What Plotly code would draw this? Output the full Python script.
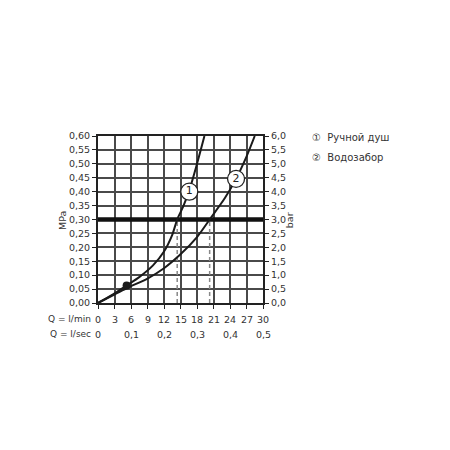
import plotly.graph_objects as go

# Data
q1 = [0, 2.5, 5.2, 7.5, 10, 12, 13.5, 14.4, 15.5, 16.6, 18.0, 19.35]
p1 = [0, 0.028, 0.063, 0.093, 0.135, 0.185, 0.245, 0.30, 0.347, 0.405, 0.50, 0.60]
q2 = [0, 5.2, 9, 12, 15, 18, 20.3, 23.1, 25.1, 27.0, 28.5]
p2 = [0, 0.053, 0.088, 0.125, 0.175, 0.237, 0.30, 0.378, 0.446, 0.526, 0.60]
dot_q, dot_p = [5.2], [0.063]
label_pts = {"1": (16.6, 0.40), "2": (25.1, 0.446)}
ref_p = 0.30
cross_q = [14.4, 20.3]
lmin_ticks = [0, 3, 6, 9, 12, 15, 18, 21, 24, 27, 30]
lsec_vals = [0, 6, 12, 18, 24, 30]
lsec_text = ["0", "0,1", "0,2", "0,3", "0,4", "0,5"]
mpa_ticks = [i * 0.05 for i in range(13)]
bar_ticks = [i * 0.5 for i in range(13)]
legend_items = ["\u2460  Ручной душ", "\u2461  Водозабор"]

FONT = "DejaVu Sans"
TXT = "#333333"
GRID = "#4a4a4a"

L, R, T, B = 97.5, 187, 135.7, 147.3
pw, ph = 450 - L - R, 450 - T - B


def py(pix):
    return 1 - (pix - T) / ph


def px(pix):
    return (pix - L) / pw


fig = go.Figure()

# dashed verticals
for q in cross_q:
    fig.add_trace(go.Scatter(x=[q, q], y=[0, ref_p], mode="lines",
                             line=dict(color="#888888", width=1.5, dash="4px,3px"),
                             hoverinfo="skip", showlegend=False))
# thick reference line
fig.add_trace(go.Scatter(x=[0, 30], y=[ref_p, ref_p], mode="lines",
                         line=dict(color="#111111", width=4.5), showlegend=False))
# curves
for qq, pp in [(q1, p1), (q2, p2)]:
    fig.add_trace(go.Scatter(x=qq, y=pp, mode="lines",
                             line=dict(color="#1a1a1a", width=2, shape="spline", smoothing=0.8),
                             showlegend=False))
fig.add_trace(go.Scatter(x=dot_q, y=dot_p, mode="markers",
                         marker=dict(color="#1a1a1a", size=8), showlegend=False))
for k, (q, p) in label_pts.items():
    fig.add_trace(go.Scatter(x=[q], y=[p], mode="markers+text", text=[k],
                             textposition="middle center",
                             textfont=dict(family=FONT, size=11, color="#222"),
                             marker=dict(color="white", size=17,
                                         line=dict(color="#222", width=1.3)),
                             showlegend=False))
# secondary axis trace (invisible)
fig.add_trace(go.Scatter(x=[0], y=[0], yaxis="y2", mode="markers",
                         marker=dict(opacity=0), showlegend=False, hoverinfo="skip"))

f10 = dict(family=FONT, size=9.5, color=TXT)
ann = []
row1, row2 = py(319), py(334)
for t in lmin_ticks:
    ann.append(dict(x=t, y=row1, xref="x", yref="paper", text=str(t), showarrow=False,
                    yanchor="middle", font=f10))
ann.append(dict(x=px(92), y=row1, xref="paper", yref="paper", text="Q = l/min", showarrow=False,
                xanchor="right", yanchor="middle", font=dict(family=FONT, size=9, color=TXT)))
for v, t in zip(lsec_vals, lsec_text):
    ann.append(dict(x=v, y=row2, xref="x", yref="paper", text=t, showarrow=False,
                    yanchor="middle", font=f10))
ann.append(dict(x=px(92), y=row2, xref="paper", yref="paper", text="Q = l/sec", showarrow=False,
                xanchor="right", yanchor="middle", font=dict(family=FONT, size=9, color=TXT)))
ann.append(dict(x=px(62), y=py(220), xref="paper", yref="paper", text="MPa", showarrow=False,
                xanchor="center", yanchor="middle", textangle=-90, font=f10))
ann.append(dict(x=px(289), y=py(220), xref="paper", yref="paper", text="bar", showarrow=False,
                xanchor="center", yanchor="middle", textangle=-90, font=f10))
for i, t in enumerate(legend_items):
    ann.append(dict(x=px(310), y=py(137 + 20 * i), xref="paper", yref="paper", text=t,
                    showarrow=False, xanchor="left", yanchor="middle",
                    font=dict(family=FONT, size=10, color=TXT)))

fig.update_layout(
    width=450, height=450, margin=dict(l=L, r=R, t=T, b=B),
    paper_bgcolor="white", plot_bgcolor="white", separators=", ",
    annotations=ann,
    xaxis=dict(range=[0, 30], tickvals=lmin_ticks, showticklabels=False,
               ticks="outside", ticklen=4, tickcolor="#222", tickwidth=1.2,
               showgrid=True, gridcolor=GRID, gridwidth=1.6,
               showline=True, linecolor="#222", linewidth=1.6, mirror=True,
               zeroline=False, fixedrange=True),
    yaxis=dict(range=[0, 0.6], tickvals=mpa_ticks, tickformat=".2f",
               ticks="outside", ticklen=4, tickcolor="#222", tickwidth=1.2,
               tickfont=f10,
               showgrid=True, gridcolor=GRID, gridwidth=1.6,
               showline=True, linecolor="#222", linewidth=2, mirror=True,
               zeroline=False),
    yaxis2=dict(range=[0, 6], tickvals=bar_ticks, tickformat=".1f", overlaying="y",
                side="right", ticks="outside", ticklen=4, tickcolor="#222",
                tickfont=f10, showgrid=False,
                zeroline=False, showline=True, linecolor="#222", linewidth=2),
)

fig.write_html("out.html")
